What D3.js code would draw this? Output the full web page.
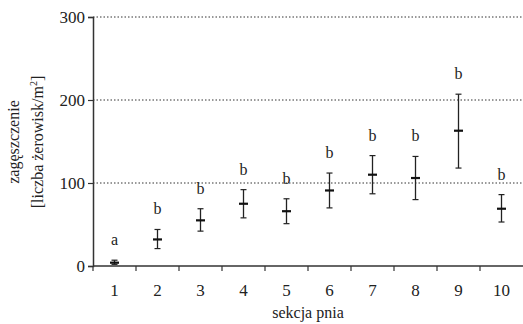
<!DOCTYPE html>
<html>
<head>
<meta charset="utf-8">
<script src="https://cdn.jsdelivr.net/npm/d3@7"></script>
<style>
  body { margin: 0; background: #fff; }
  svg text { font-family: "Liberation Serif", "DejaVu Serif", serif; fill: #222; }
</style>
</head>
<body>
<svg id="chart" width="523" height="324"></svg>
<script>
// sekcje pnia
var sections = ['1', '2', '3', '4', '5', '6', '7', '8', '9', '10'];
var means = [4, 32, 55, 75, 66, 91, 110, 106, 163, 69];
var upper = [7, 44, 69, 92, 81, 112, 133, 132, 207, 86];
var lower = [2, 21, 42, 58, 51, 70, 87, 80, 118, 53];
var groups = ['a', 'b', 'b', 'b', 'b', 'b', 'b', 'b', 'b', 'b'];
var yTicks = [0, 100, 200, 300];

var svg = d3.select('#chart');
var plotLeft = 93, plotRight = 523, plotTop = 17, plotBottom = 266;

var x = d3.scaleBand().domain(sections).range([plotLeft, plotRight]);
var y = d3.scaleLinear().domain([0, 300]).range([plotBottom, plotTop]);

// dotted grid lines
svg.append('g')
    .selectAll('line')
    .data(yTicks.filter(d => d > 0))
    .enter()
    .append('line')
    .attr('x1', plotLeft).attr('x2', plotRight)
    .attr('y1', d => y(d)).attr('y2', d => y(d))
    .attr('stroke', '#333')
    .attr('stroke-width', 1)
    .attr('stroke-dasharray', '1.5,2');

// y axis
var yAxis = svg.append('g')
    .attr('transform', `translate(${plotLeft},0)`)
    .call(d3.axisLeft(y).tickValues(yTicks).tickSize(5).tickPadding(3));
yAxis.select('.domain').attr('stroke', '#333').attr('stroke-width', 1.5);
yAxis.selectAll('.tick line').attr('stroke', '#333').attr('stroke-width', 1.2);
yAxis.selectAll('text').style('font-size', '17px').attr('fill', '#222')
    .attr('font-family', 'Liberation Serif');

// x axis: ticks at band boundaries
var xAxis = svg.append('g')
    .attr('transform', `translate(0,${plotBottom})`);
xAxis.append('line')
    .attr('x1', plotLeft).attr('x2', plotRight)
    .attr('stroke', '#333').attr('stroke-width', 1.5);
xAxis.selectAll('.xt')
    .data(sections)
    .enter()
    .append('line')
    .attr('class', 'xt')
    .attr('x1', d => x(d)).attr('x2', d => x(d))
    .attr('y1', 0).attr('y2', 5)
    .attr('stroke', '#333').attr('stroke-width', 1.2);
xAxis.selectAll('.xl')
    .data(sections)
    .enter()
    .append('text')
    .attr('class', 'xl')
    .attr('x', d => x(d) + x.bandwidth() / 2)
    .attr('y', 30)
    .attr('text-anchor', 'middle')
    .style('font-size', '17px')
    .text(d => d);

// error bars
var cx = d => x(d) + x.bandwidth() / 2;
var bars = svg.append('g').selectAll('g')
    .data(sections)
    .enter()
    .append('g');

bars.append('line')
    .attr('x1', cx).attr('x2', cx)
    .attr('y1', (d, i) => y(upper[i])).attr('y2', (d, i) => y(lower[i]))
    .attr('stroke', '#222').attr('stroke-width', 1.3);
bars.append('line')
    .attr('x1', d => cx(d) - 3).attr('x2', d => cx(d) + 3)
    .attr('y1', (d, i) => y(upper[i])).attr('y2', (d, i) => y(upper[i]))
    .attr('stroke', '#222').attr('stroke-width', 1.2);
bars.append('line')
    .attr('x1', d => cx(d) - 3).attr('x2', d => cx(d) + 3)
    .attr('y1', (d, i) => y(lower[i])).attr('y2', (d, i) => y(lower[i]))
    .attr('stroke', '#222').attr('stroke-width', 1.2);
bars.append('line')
    .attr('x1', d => cx(d) - 4.5).attr('x2', d => cx(d) + 4.5)
    .attr('y1', (d, i) => y(means[i])).attr('y2', (d, i) => y(means[i]))
    .attr('stroke', '#111').attr('stroke-width', 2.2);

// group letters
bars.append('text')
    .attr('x', cx)
    .attr('y', (d, i) => y(upper[i]) - 15)
    .attr('text-anchor', 'middle')
    .style('font-size', '16px')
    .text((d, i) => groups[i]);

// axis titles
svg.append('text')
    .attr('x', (plotLeft + plotRight) / 2)
    .attr('y', 318)
    .attr('text-anchor', 'middle')
    .style('font-size', '16px')
    .text('sekcja pnia');

var yt = svg.append('text')
    .attr('transform', 'translate(19,142) rotate(-90)')
    .attr('text-anchor', 'middle')
    .style('font-size', '16px');
yt.append('tspan').attr('x', 0).attr('y', 0).text('zagęszczenie');
var l2 = yt.append('tspan').attr('x', 0).attr('y', 24).text('[liczba żerowisk/m');
l2.append('tspan').attr('dy', -6).style('font-size', '10px').text('2');
l2.append('tspan').attr('dy', 6).text(']');
</script>
</body>
</html>
